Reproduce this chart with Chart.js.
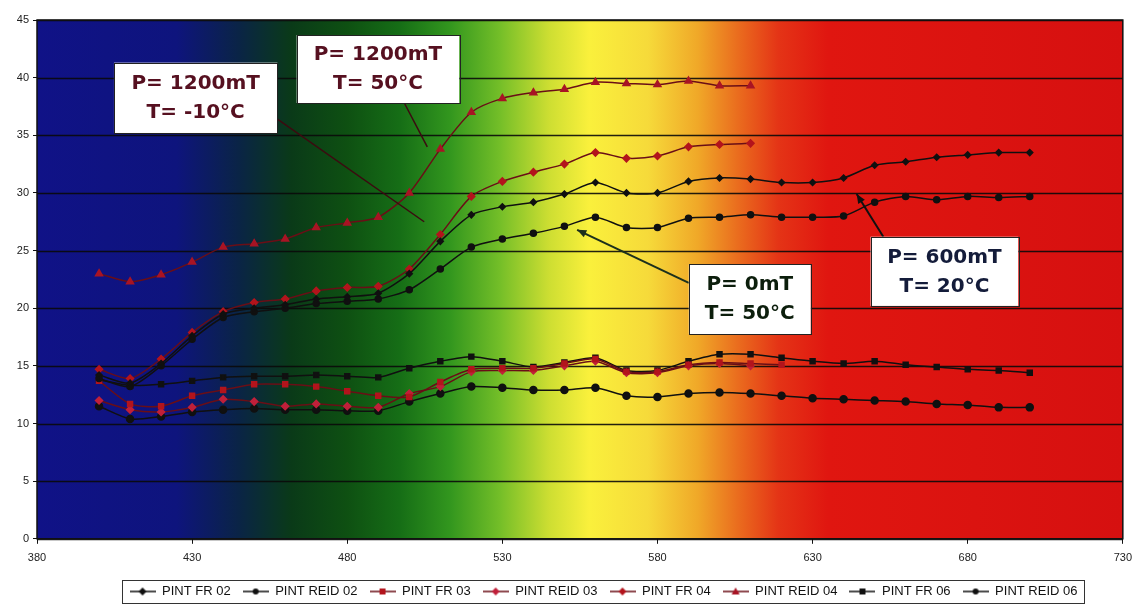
<!DOCTYPE html>
<html><head><meta charset="utf-8">
<script src="https://cdn.jsdelivr.net/npm/chart.js@4.4.1/dist/chart.umd.min.js"></script>
<style>html,body{margin:0;padding:0;background:#fff}#wrap{width:1140px;height:610px;position:relative}</style>
</head><body><div id="wrap"><canvas id="c" width="1140" height="610"></canvas></div>
<script>
// ---- data ----
const wavelengths = [400,410,420,430,440,450,460,470,480,490,500,510,520,530,540,550,560,570,580,590,600,610,620,630,640,650,660,670,680,690,700];
const xTicks = [380,430,480,530,580,630,680,730];
const yTicks = [0,5,10,15,20,25,30,35,40,45];
const seriesNames = ["PINT FR 02","PINT REID 02","PINT FR 03","PINT REID 03","PINT FR 04","PINT REID 04","PINT FR 06","PINT REID 06"];
const pintFR02   = [14.2,13.5,15.2,17.6,19.5,20.0,20.3,20.8,21.0,21.3,23.0,25.8,28.1,28.8,29.2,29.9,30.9,30.0,30.0,31.0,31.3,31.2,30.9,30.9,31.3,32.4,32.7,33.1,33.3,33.5,33.5];
const pintREID02 = [13.9,13.2,15.0,17.3,19.2,19.7,20.0,20.4,20.6,20.8,21.6,23.4,25.3,26.0,26.5,27.1,27.9,27.0,27.0,27.8,27.9,28.1,27.9,27.9,28.0,29.2,29.7,29.4,29.7,29.6,29.7];
const pintFR03   = [13.7,11.7,11.5,12.4,12.9,13.4,13.4,13.2,12.8,12.4,12.3,13.6,14.7,14.8,14.8,15.2,15.6,14.5,14.5,15.1,15.3,15.2,15.1,null,null,null,null,null,null,null,null];
const pintREID03 = [12.0,11.2,11.0,11.4,12.1,11.9,11.5,11.7,11.5,11.4,12.6,13.2,14.5,14.6,14.6,15.0,15.4,14.4,14.4,15.0,15.2,15.0,null,null,null,null,null,null,null,null,null];
const pintFR04   = [14.7,13.9,15.6,17.9,19.7,20.5,20.8,21.5,21.8,21.9,23.4,26.4,29.7,31.0,31.8,32.5,33.5,33.0,33.2,34.0,34.2,34.3,null,null,null,null,null,null,null,null,null];
const pintREID04 = [23.0,22.3,22.9,24.0,25.3,25.6,26.0,27.0,27.4,27.9,30.0,33.8,37.0,38.2,38.7,39.0,39.6,39.5,39.4,39.7,39.3,39.3,null,null,null,null,null,null,null,null,null];
const pintFR06   = [13.8,13.3,13.4,13.7,14.0,14.1,14.1,14.2,14.1,14.0,14.8,15.4,15.8,15.4,14.9,15.3,15.7,14.6,14.6,15.4,16.0,16.0,15.7,15.4,15.2,15.4,15.1,14.9,14.7,14.6,14.4];
const pintREID06 = [11.5,10.4,10.6,11.0,11.2,11.3,11.2,11.2,11.1,11.1,11.9,12.6,13.2,13.1,12.9,12.9,13.1,12.4,12.3,12.6,12.7,12.6,12.4,12.2,12.1,12.0,11.9,11.7,11.6,11.4,11.4];

// ---- styles ----
const seriesValues = [pintFR02,pintREID02,pintFR03,pintREID03,pintFR04,pintREID04,pintFR06,pintREID06];
const lineColors  = ['#101010','#101010','#6a0e16','#6a0e16','#6a0e16','#6a0e16','#101010','#101010'];
const markColors  = ['#101010','#101010','#b3141c','#c0203a','#b3141c','#a81424','#101010','#101010'];
const markStyles  = ['rectRot','circle','rect','rectRot','rectRot','triangle','rect','circle'];
const markRadius  = [3,3,3.5,3.5,3.5,4,3.5,3.5];
const LEGEND_SHIFT = 37;

// annotation boxes and arrows (in data coordinates)
const noteBoxes = [
  {x1:404.8,x2:457.5,y1:41.3,y2:35.2,lines:["P= 1200mT","T= -10°C"],color:'#561020'},
  {x1:463.7,x2:516.1,y1:43.7,y2:37.8,lines:["P= 1200mT","T= 50°C"],color:'#561020'},
  {x1:590.1,x2:629.4,y1:23.8,y2:17.75,lines:["P= 0mT","T= 50°C"],color:'#0c1e0c'},
  {x1:648.7,x2:696.3,y1:26.2,y2:20.2,lines:["P= 600mT","T= 20°C"],color:'#141c3a'}
];
const noteArrows = [
  {x1:457.5,y1:36.4,x2:504.8,y2:27.5,color:'#3c0a10',w:1.5,head:false},
  {x1:498.4,y1:37.8,x2:505.8,y2:34.0,color:'#3c0a10',w:1.5,head:false},
  {x1:590.1,y1:22.2,x2:554.1,y2:26.8,color:'#1c301c',w:2,head:true},
  {x1:652.8,y1:26.2,x2:644.2,y2:29.9,color:'#101010',w:2,head:true}
];

function legendIcon(i){
  const c = document.createElement('canvas');
  c.width = 26; c.height = 10;
  const g = c.getContext('2d');
  g.strokeStyle = lineColors[i]; g.lineWidth = 1.5;
  g.beginPath(); g.moveTo(0,5); g.lineTo(26,5); g.stroke();
  g.fillStyle = markColors[i];
  const r = 3, cx = 13, cy = 5;
  g.beginPath();
  if (markStyles[i]==='circle'){ g.arc(cx,cy,r,0,Math.PI*2); }
  else if (markStyles[i]==='rect'){ g.rect(cx-r,cy-r,2*r,2*r); }
  else if (markStyles[i]==='triangle'){ g.moveTo(cx,cy-r-1); g.lineTo(cx+r+1,cy+r); g.lineTo(cx-r-1,cy+r); g.closePath(); }
  else { g.moveTo(cx,cy-r-1); g.lineTo(cx+r+1,cy); g.lineTo(cx,cy+r+1); g.lineTo(cx-r-1,cy); g.closePath(); }
  g.fill();
  return c;
}

const datasets = seriesNames.map((name,i)=>({
  label: name,
  data: wavelengths.map((w,k)=>({x:w,y:seriesValues[i][k]})),
  borderColor: lineColors[i],
  backgroundColor: markColors[i],
  pointBackgroundColor: markColors[i],
  pointBorderColor: markColors[i],
  pointStyle: markStyles[i],
  pointRadius: markRadius[i],
  borderWidth: 1.5,
  tension: 0.25,
  spanGaps: false,
  legendIcon: legendIcon(i)
}));

const spectrumStops = [
  [380,'rgb(16,18,135)'],[425,'rgb(14,20,125)'],[445,'rgb(10,36,70)'],[462,'rgb(10,58,24)'],
  [480,'rgb(14,80,18)'],[497,'rgb(22,110,22)'],[513,'rgb(50,150,30)'],[529,'rgb(115,190,40)'],
  [545,'rgb(205,222,50)'],[558,'rgb(250,240,60)'],[577,'rgb(246,218,58)'],[593,'rgb(240,168,40)'],
  [606,'rgb(234,108,30)'],[619,'rgb(228,52,22)'],[635,'rgb(224,22,16)'],[730,'rgb(214,16,16)']
];

const bgPlugin = {
  id:'spectrum',
  afterLayout(chart){
    const lg = chart.legend;
    if (lg){ lg.left += LEGEND_SHIFT; lg.right += LEGEND_SHIFT; }
  },
  beforeDatasetsDraw(chart){
    const {ctx, chartArea:a, scales:{x}} = chart;
    const g = ctx.createLinearGradient(a.left,0,a.right,0);
    spectrumStops.forEach(([v,c])=>{
      const t = (x.getPixelForValue(v)-a.left)/(a.right-a.left);
      g.addColorStop(Math.min(1,Math.max(0,t)),c);
    });
    ctx.save();
    ctx.fillStyle = g;
    ctx.fillRect(a.left,a.top,a.right-a.left,a.bottom-a.top);
    const y = chart.scales.y;
    ctx.strokeStyle = 'rgba(10,10,10,0.9)'; ctx.lineWidth = 1.3;
    yTicks.forEach(v=>{
      const py = Math.round(y.getPixelForValue(v))+0.5;
      ctx.beginPath(); ctx.moveTo(a.left,py); ctx.lineTo(a.right,py); ctx.stroke();
    });
    ctx.restore();
  },
  afterDatasetsDraw(chart){
    const {ctx, chartArea:a, scales:{x,y}} = chart;
    ctx.save();
    ctx.strokeStyle = '#111'; ctx.lineWidth = 1.5;
    ctx.strokeRect(a.left,a.top,a.right-a.left,a.bottom-a.top);
    noteArrows.forEach(ar=>{
      const x1=x.getPixelForValue(ar.x1), y1=y.getPixelForValue(ar.y1);
      const x2=x.getPixelForValue(ar.x2), y2=y.getPixelForValue(ar.y2);
      ctx.strokeStyle = ar.color; ctx.lineWidth = ar.w;
      ctx.beginPath(); ctx.moveTo(x1,y1); ctx.lineTo(x2,y2); ctx.stroke();
      if (ar.head){
        const ang = Math.atan2(y2-y1,x2-x1), L = 10;
        ctx.fillStyle = ar.color;
        ctx.beginPath(); ctx.moveTo(x2,y2);
        ctx.lineTo(x2-L*Math.cos(ang-0.4), y2-L*Math.sin(ang-0.4));
        ctx.lineTo(x2-L*Math.cos(ang+0.4), y2-L*Math.sin(ang+0.4));
        ctx.closePath(); ctx.fill();
      }
    });
    noteBoxes.forEach(b=>{
      const l=x.getPixelForValue(b.x1), r=x.getPixelForValue(b.x2);
      const t=y.getPixelForValue(b.y1), bt=y.getPixelForValue(b.y2);
      ctx.fillStyle = '#fff'; ctx.fillRect(l,t,r-l,bt-t);
      ctx.strokeStyle = '#222'; ctx.lineWidth = 1; ctx.strokeRect(Math.round(l)+0.5,Math.round(t)+0.5,Math.round(r-l),Math.round(bt-t));
      ctx.fillStyle = b.color; ctx.font = 'bold 20px "DejaVu Sans", Verdana, sans-serif';
      ctx.textAlign = 'center'; ctx.textBaseline = 'middle';
      const cx=(l+r)/2, cy=(t+bt)/2;
      ctx.fillText(b.lines[0], cx, cy-14);
      ctx.fillText(b.lines[1], cx, cy+15);
    });
    ctx.restore();
  },
  afterDraw(chart){
    const lg = chart.legend;
    if (!lg || !lg.lineWidths) return;
    const pad = lg.options.labels.padding;
    const lw = lg.lineWidths[0];
    const start = (lg.left + pad + lg.right - lw) / 2;
    const l = start - 8, r = start + lw - pad + 6;
    const t = lg.top + pad - 5, b = lg.top + pad + 13 + 5;
    const ctx = chart.ctx;
    ctx.save(); ctx.strokeStyle = '#333'; ctx.lineWidth = 1;
    ctx.strokeRect(Math.round(l)+0.5,Math.round(t)+0.5,Math.round(r-l),Math.round(b-t));
    ctx.restore();
  }
};

new Chart(document.getElementById('c'),{
  type:'line',
  data:{datasets},
  plugins:[bgPlugin],
  options:{
    responsive:false,
    animation:false,
    layout:{padding:{left:4,right:11,top:20,bottom:2}},
    plugins:{
      tooltip:{enabled:false},
      legend:{
        position:'bottom',
        labels:{
          usePointStyle:true,
          pointStyleWidth:26,
          boxHeight:10,
          padding:12,
          color:'#111',
          font:{family:'"Liberation Sans", Arial, sans-serif',size:13},
          generateLabels(chart){
            return chart.data.datasets.map((d,i)=>({
              text:d.label, pointStyle:d.legendIcon, fillStyle:d.backgroundColor,
              strokeStyle:d.borderColor, lineWidth:0, datasetIndex:i, hidden:false, fontColor:'#111'
            }));
          }
        }
      }
    },
    scales:{
      x:{
        type:'linear', min:380, max:730,
        afterBuildTicks(s){ s.ticks = xTicks.map(v=>({value:v})); },
        ticks:{color:'#222',font:{family:'"Liberation Sans", Arial, sans-serif',size:11},padding:8,maxRotation:0},
        grid:{drawOnChartArea:false,color:'#111',tickLength:5},
        border:{color:'#111'}
      },
      y:{
        min:0, max:45,
        afterBuildTicks(s){ s.ticks = yTicks.map(v=>({value:v})); },
        afterFit(s){ s.width = 33; },
        ticks:{color:'#222',font:{family:'"Liberation Sans", Arial, sans-serif',size:11},padding:4},
        grid:{drawOnChartArea:false,color:'#111',tickLength:4},
        border:{color:'#111'}
      }
    }
  }
});
</script>
</body></html>
